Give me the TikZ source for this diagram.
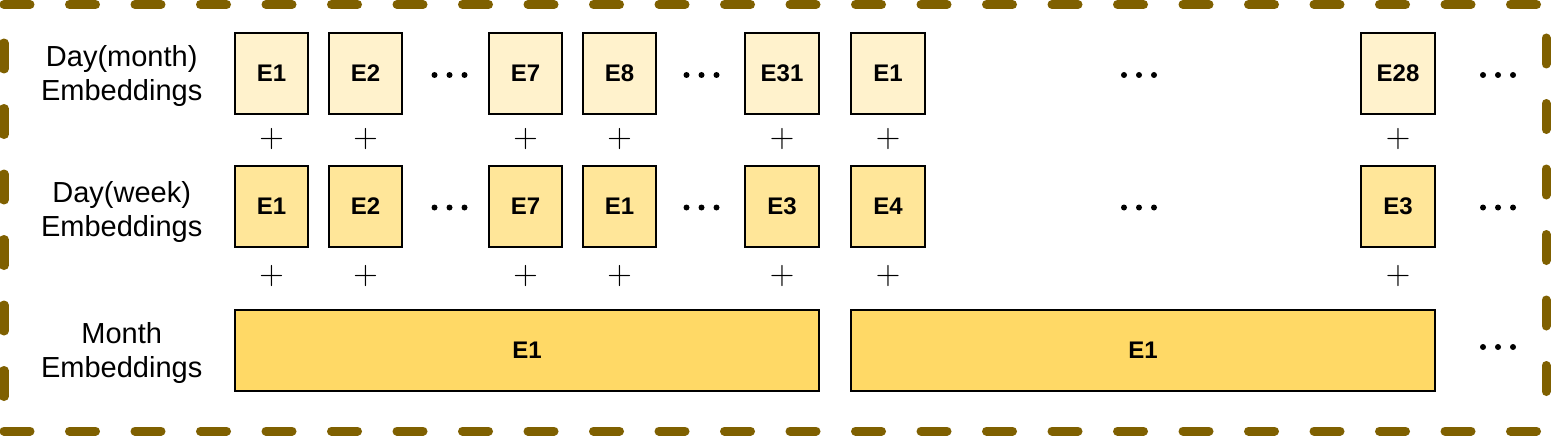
\documentclass[tikz,border=0pt]{standalone}
\usepackage{fontspec}
\setmainfont{Liberation Sans}
\newfontfamily\lmfont{Latin Modern Roman}
\definecolor{dmfill}{HTML}{FFF2CC}
\definecolor{dwfill}{HTML}{FFE699}
\definecolor{mofill}{HTML}{FFD966}
\definecolor{framecol}{HTML}{7F6000}
\tikzset{
	emb/.style={draw, line width=2.3pt, inner sep=0pt, minimum width=73.5pt, minimum height=81.5pt,
		font=\fontsize{24}{28}\selectfont\bfseries},
	rowlabel/.style={align=center, font=\fontsize{29}{34}\selectfont},
	plussign/.style={inner sep=0pt, font=\lmfont\fontsize{34}{34}\selectfont},
	frame/.style={draw=framecol, line width=9pt, line cap=round},
}
\newcommand{\threedots}[1]{\fill (#1) ++(-15,0) circle (3pt) ++(15,0) circle (3pt) ++(15,0) circle (3pt);}
\begin{document}
\begin{tikzpicture}[x=1pt, y=-1pt]
		\useasboundingbox (0,0) rectangle (1558,436);
		\def \ydm{73.5}
		\def \ydw{206.5}
		\def \ymo{350.5}
		% dashed frame
		\draw[frame, dash pattern=on 26pt off 39.5pt] (4,4.5) -- (1546,4.5);
		\draw[frame, dash pattern=on 26pt off 39.5pt, dash phase=27pt] (4,4.5) -- (4,431);
		\draw[frame, dash pattern=on 26pt off 39.5pt, dash phase=32pt] (1546,4.5) -- (1546,431);
		\draw[frame, dash pattern=on 26pt off 39.5pt] (4,431) -- (1546,431);
		% row labels
		\node[rowlabel] (lbdm) at (121.7, 76) {Day(month)\\Embeddings};
		\node[rowlabel] (lbdw) at (121.7, 212) {Day(week)\\Embeddings};
		\node[rowlabel] (lbmo) at (121.7, 353) {Month\\Embeddings};
		% day embeddings
		\foreach \i/\x/\m/\w in {1/271.5/E1/E1, 2/365.5/E2/E2, 3/525.5/E7/E7, 4/619.5/E8/E1,
				5/782/E31/E3, 6/888/E1/E4, 7/1398/E28/E3} {
			\node[emb, fill=dmfill] (dm\i) at (\x, \ydm) {\m};
			\node[emb, fill=dwfill] (dw\i) at (\x, \ydw) {\w};
			\node[plussign] (pa\i) at (\x, 139.5) {+};
			\node[plussign] (pb\i) at (\x, 276) {+};
		}
		% month embeddings
		\node[emb, fill=mofill, minimum width=583.5pt, minimum height=80.5pt] (mo1) at (527, \ymo) {E1};
		\node[emb, fill=mofill, minimum width=583.5pt, minimum height=80.5pt] (mo2) at (1143, \ymo) {E1};
		% dots
		\foreach \x in {449.5, 701.5, 1139, 1498} {
			\threedots{\x, 75}
			\threedots{\x, 207.5}
		}
		\threedots{1498, 347}
	\end{tikzpicture}
\end{document}
